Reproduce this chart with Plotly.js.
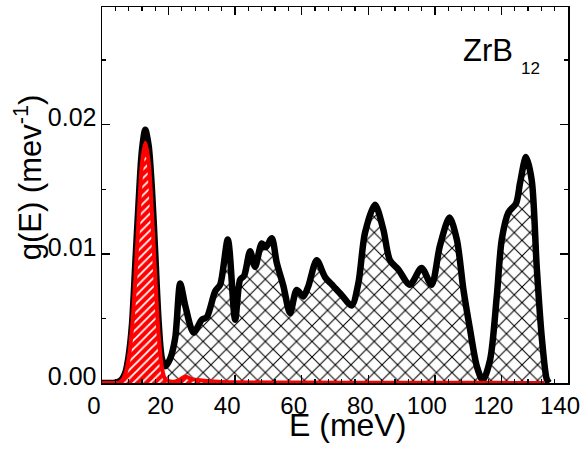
<!DOCTYPE html>
<html>
<head>
<meta charset="utf-8">
<script src="https://cdn.plot.ly/plotly-3.0.1.min.js"></script>
<style>html,body{margin:0;padding:0;background:#fff;}#chart{width:583px;height:459px;}</style>
</head>
<body>
<div id="chart"></div>
<script>
// Total phonon DOS (black)
var totalE = [0, 2, 4, 5, 6, 7, 8, 9, 10, 11, 12, 13, 14, 15, 16, 17, 18, 19, 20.5, 22, 23.5, 25, 27.5, 30, 31.5, 34, 35.5, 37.8, 40, 41.5, 42.7, 44.5, 46, 48, 49.2, 51, 52.5, 54.5, 56.5, 58.5, 60.5, 62, 64.5, 67, 69.5, 72, 75, 77, 79, 82, 84.5, 86.5, 89, 92.5, 96, 99, 101.5, 104.4, 106.6, 108.6, 110.6, 112.6, 114.4, 116.6, 118.6, 120.1, 122.1, 124.4, 125.6, 127.4, 129.1, 130.6, 132.1, 133.6, 134.3];
var totalG = [0, 0, 0.00002, 0.0001, 0.0003, 0.0008, 0.0021, 0.0045, 0.0092, 0.0140, 0.0180, 0.0196, 0.0184, 0.0150, 0.0100, 0.0048, 0.0019, 0.0013, 0.0019, 0.0035, 0.0077, 0.0060, 0.0039, 0.0049, 0.0051, 0.0071, 0.0076, 0.0111, 0.0049, 0.0080, 0.0083, 0.0102, 0.0090, 0.0108, 0.0105, 0.0112, 0.0093, 0.0075, 0.0054, 0.0072, 0.0067, 0.0075, 0.0095, 0.0082, 0.0075, 0.0068, 0.0060, 0.0077, 0.0116, 0.0138, 0.0119, 0.0095, 0.0088, 0.0076, 0.0089, 0.0076, 0.0106, 0.0128, 0.0111, 0.0072, 0.0041, 0.0013, 0.0002, 0.0018, 0.0067, 0.0111, 0.0132, 0.0139, 0.0155, 0.0175, 0.0157, 0.0090, 0.0036, 0.0003, 0];

// Zr partial DOS (red)
var zrE = [0, 3, 5, 6, 7, 8, 9, 10, 11, 12, 13, 14, 15, 16, 17, 18, 19, 21, 23, 25, 27, 30, 35, 40, 60, 90, 120, 133];
var zrG = [0, 0, 0.00003, 0.0002, 0.0007, 0.0019, 0.0042, 0.0080, 0.0128, 0.0170, 0.0186, 0.0172, 0.0132, 0.0082, 0.0038, 0.0012, 0.0003, 0.0001, 0.0002, 0.0005, 0.0003, 0.0002, 0.0001, 0.00006, 0.00003, 0.00002, 0.00001, 0];

var xTicks = [0, 20, 40, 60, 80, 100, 120, 140];
var yTicks = [0, 0.01, 0.02];
var yTickText = ['0.00', '0.01', '0.02'];

var traces = [
  {
    x: totalE, y: totalG, type: 'scatter', mode: 'lines',
    line: {color: '#000', width: 6.5, shape: 'spline', smoothing: 0.8},
    fill: 'tozeroy', fillcolor: 'rgba(255,255,255,0)',
    fillpattern: {shape: 'x', fgcolor: '#000', bgcolor: 'rgba(255,255,255,0)', size: 11, solidity: 0.18},
    hoverinfo: 'skip'
  },
  {
    x: zrE, y: zrG, type: 'scatter', mode: 'lines',
    line: {color: '#ff0000', width: 4, shape: 'spline', smoothing: 0.8},
    fill: 'tozeroy', fillcolor: '#ff0000',
    fillpattern: {shape: '/', fgcolor: '#ffffff', bgcolor: '#ff0000', size: 6, solidity: 0.3},
    hoverinfo: 'skip'
  }
];

var fontFam = 'Liberation Sans, Arial, sans-serif';
var layout = {
  width: 583, height: 459,
  margin: {l: 102, r: 15, t: 7, b: 76},
  paper_bgcolor: '#fff', plot_bgcolor: '#fff',
  showlegend: false,
  font: {family: fontFam, color: '#000'},
  xaxis: {
    range: [0, 140], tickvals: xTicks, ticktext: xTicks.map(String),
    ticks: 'inside', ticklen: 8, tickwidth: 1.5, tickcolor: '#000',
    minor: {dtick: 4, tick0: 0, ticks: 'inside', ticklen: 4, tickwidth: 1.2, tickcolor: '#000'},
    showline: true, linecolor: '#000', linewidth: 1.5, mirror: 'ticks',
    showgrid: false, zeroline: false,
    tickfont: {size: 24, family: fontFam, color: '#000'},
    ticklabelshift: -8, ticklabelstandoff: 1
  },
  yaxis: {
    range: [0, 0.0291], tickvals: yTicks, ticktext: yTickText,
    ticks: 'inside', ticklen: 8, tickwidth: 1.5, tickcolor: '#000',
    minor: {dtick: 0.005, tick0: 0, ticks: 'inside', ticklen: 4, tickwidth: 1.2, tickcolor: '#000'},
    showline: true, linecolor: '#000', linewidth: 1.5, mirror: 'ticks',
    showgrid: false, zeroline: false,
    tickfont: {size: 25, family: fontFam, color: '#000'},
    ticklabelshift: -7, ticklabelstandoff: -1
  },
  annotations: [
    {text: 'E (meV)', xref: 'paper', yref: 'paper', x: 0.527, y: -0.113, xanchor: 'center', yanchor: 'middle', showarrow: false, font: {size: 32, family: fontFam, color: '#000'}},
    {text: 'g(E) (mev<sup>-1</sup>)', xref: 'paper', yref: 'paper', x: -0.158, y: 0.548, xanchor: 'center', yanchor: 'middle', textangle: -90, showarrow: false, font: {size: 31, family: fontFam, color: '#000'}},
    {text: 'ZrB', xref: 'paper', yref: 'paper', x: 0.771, y: 0.884, xanchor: 'left', yanchor: 'middle', showarrow: false, font: {size: 31, family: fontFam, color: '#000'}},
    {text: '12', xref: 'paper', yref: 'paper', x: 0.895, y: 0.836, xanchor: 'left', yanchor: 'middle', showarrow: false, font: {size: 17, family: fontFam, color: '#000'}}
  ]
};

Plotly.newPlot('chart', traces, layout, {displayModeBar: false, staticPlot: true});
</script>
</body>
</html>
